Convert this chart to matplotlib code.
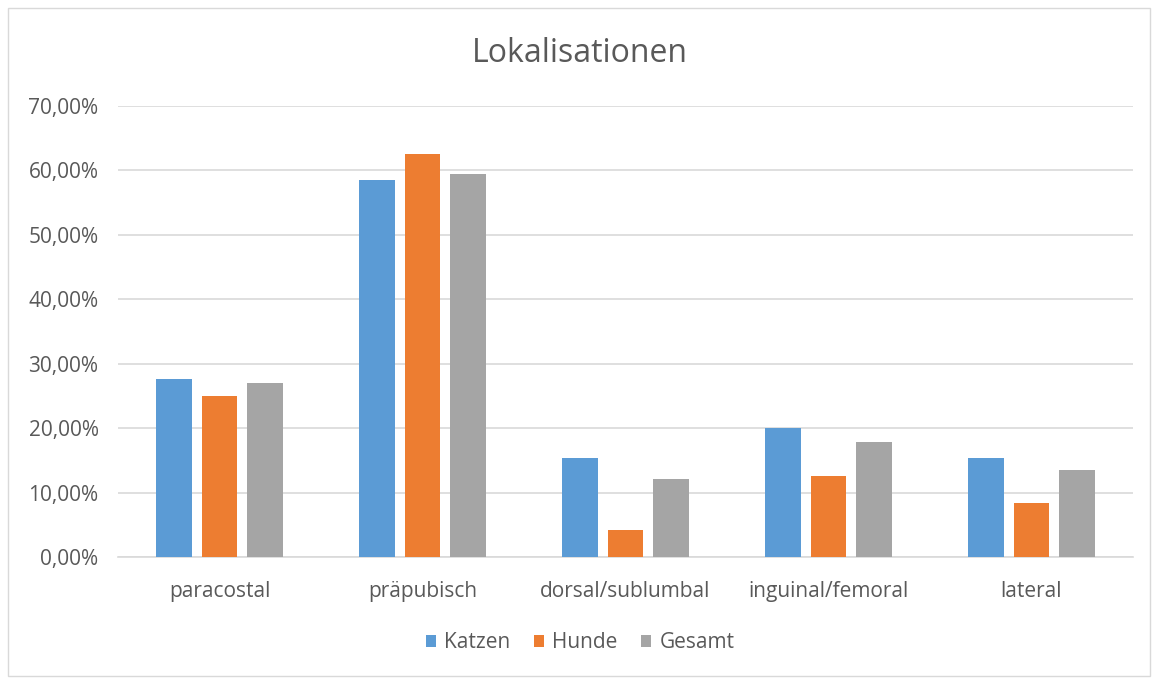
import matplotlib.pyplot as plt
import numpy as np
from matplotlib.patches import Rectangle

categories = ['paracostal', 'präpubisch', 'dorsal/sublumbal', 'inguinal/femoral', 'lateral']
katzen = [27.66, 58.51, 15.38, 20.0, 15.38]
hunde = [25.0, 62.5, 4.17, 12.5, 8.33]
gesamt = [27.03, 59.46, 12.16, 17.84, 13.51]
yticks = [0, 10, 20, 30, 40, 50, 60, 70]

series = [('Katzen', katzen, '#5B9BD5'), ('Hunde', hunde, '#ED7D31'), ('Gesamt', gesamt, '#A5A5A5')]
text_col = '#595959'

plt.rcParams['font.family'] = ['Open Sans', 'DejaVu Sans']

fig = plt.figure(figsize=(11.6, 6.8), dpi=100)
ax = fig.add_axes([0.1017, 0.1809, 0.875, 0.6632])

# chart border
fig.patches.append(Rectangle((8 / 1160, 4 / 680), 1142 / 1160, 668 / 680, transform=fig.transFigure,
                             fill=False, edgecolor='#D9D9D9', linewidth=1))

x = np.arange(len(categories))
width = 0.177
step = 0.222
for i, (name, vals, col) in enumerate(series):
    ax.bar(x + (i - 1) * step, vals, width, color=col, label=name, zorder=3)

ax.set_xlim(-0.5, len(categories) - 0.5)
ax.set_ylim(0, 70)
ax.set_yticks(yticks)
ax.set_yticklabels([f'{v},00%' for v in yticks], fontsize=15, color=text_col)
ax.set_xticks(x)
ax.set_xticklabels(categories, fontsize=15, color=text_col)
ax.tick_params(axis='x', length=0, pad=17)
ax.tick_params(axis='y', length=0, pad=14)
ax.grid(axis='y', color='#D9D9D9', linewidth=1.2, zorder=0)
for s in ['top', 'right', 'left']:
    ax.spines[s].set_visible(False)
ax.spines['bottom'].set_color('#D9D9D9')
ax.spines['bottom'].set_linewidth(1.2)

fig.text(0.5, 0.922, 'Lokalisationen', ha='center', va='center', fontsize=23, color=text_col)

leg = fig.legend(loc='center', bbox_to_anchor=(0.5, 0.055), ncol=3, frameon=False, fontsize=15,
                 handlelength=0.5, handleheight=0.5, handletextpad=0.4, columnspacing=1.1)
for t in leg.get_texts():
    t.set_color(text_col)

fig.savefig('out.png', dpi=100)
